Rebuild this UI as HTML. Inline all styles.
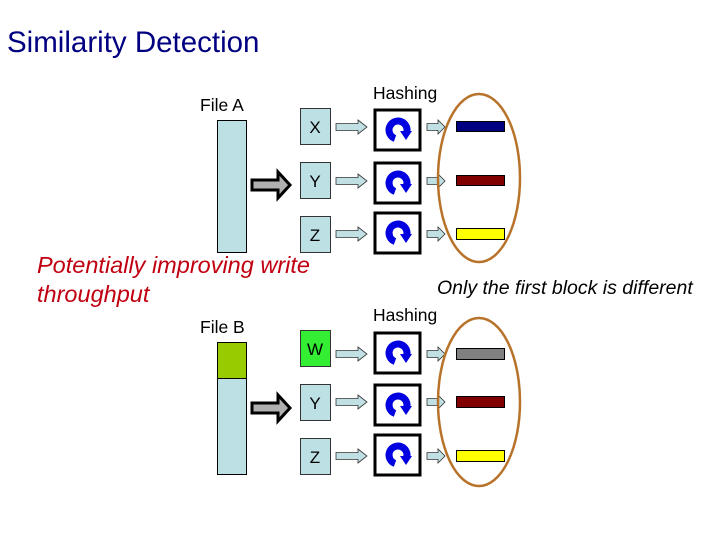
<!DOCTYPE html>
<html><head><meta charset="utf-8"><style>
html,body{margin:0;padding:0;background:#fff;}
svg{display:block;font-family:"Liberation Sans",sans-serif;}
</style></head><body>
<svg width="720" height="540" viewBox="0 0 720 540" xmlns="http://www.w3.org/2000/svg">
<defs>
<g id="icon">
<path d="M-3 8.5 A9 9 0 1 1 8.5 3" fill="none" stroke="#0000e0" stroke-width="7"/>
<polygon points="2,1 14,1 8,10" fill="#0000e0"/>
</g>
<g id="sa">
<polygon points="0,-3.5 22,-3.5 22,-7 31,0 22,7 22,3.5 0,3.5" fill="#c0e0e4" stroke="#333" stroke-width="0.8"/>
</g>
<g id="sb">
<polygon points="0,-3.5 11,-3.5 11,-7 18,0 11,7 11,3.5 0,3.5" fill="#c0e0e4" stroke="#333" stroke-width="0.8"/>
</g>
<g id="big">
<polygon points="0,-5 26,-5 26,-13 38,0 26,13 26,5 0,5" fill="#b0b0b0" stroke="#000" stroke-width="3"/>
</g>
</defs>
<text x="7" y="52" font-size="29.5" fill="#000080">Similarity Detection</text>

<!-- Top -->
<text x="200" y="111" font-size="17.5" fill="#000">File A</text>
<text x="373" y="99" font-size="17.5" fill="#000">Hashing</text>
<rect x="217.5" y="120.5" width="29" height="132" fill="#bde0e4" stroke="#000"/>
<use href="#big" x="252" y="185"/>
<rect x="300.5" y="108.5" width="30" height="36" fill="#bde0e4" stroke="#333"/>
<rect x="300.5" y="162.5" width="30" height="36" fill="#bde0e4" stroke="#333"/>
<rect x="300.5" y="216.5" width="30" height="36" fill="#bde0e4" stroke="#333"/>
<text x="315" y="133" font-size="17" text-anchor="middle">X</text>
<text x="315" y="187" font-size="17" text-anchor="middle">Y</text>
<text x="315" y="241" font-size="17" text-anchor="middle">Z</text>
<use href="#sa" x="336" y="127"/><use href="#sa" x="336" y="181"/><use href="#sa" x="336" y="234"/>
<rect x="375" y="110" width="45" height="40" fill="#fff" stroke="#000" stroke-width="3"/>
<rect x="375" y="163" width="45" height="40" fill="#fff" stroke="#000" stroke-width="3"/>
<rect x="375" y="213" width="45" height="40" fill="#fff" stroke="#000" stroke-width="3"/>
<use href="#icon" x="398" y="130"/><use href="#icon" x="398" y="183"/><use href="#icon" x="398" y="233"/>
<use href="#sb" x="427" y="127"/><use href="#sb" x="427" y="181"/><use href="#sb" x="427" y="234"/>
<rect x="456.5" y="121.5" width="48" height="10" fill="#000080" stroke="#000"/>
<rect x="456.5" y="175.5" width="48" height="10" fill="#800000" stroke="#000"/>
<rect x="456.5" y="228.5" width="48" height="11" fill="#ffff00" stroke="#000"/>
<ellipse cx="479" cy="178" rx="41" ry="84" fill="none" stroke="#b8732a" stroke-width="2.5"/>

<text x="37" y="273" font-size="23.5" font-style="italic" fill="#c00010">Potentially improving write</text>
<text x="37" y="302" font-size="23.5" font-style="italic" fill="#c00010">throughput</text>
<text x="437" y="294" font-size="19.5" font-style="italic" fill="#000">Only the first block is different</text>

<!-- Bottom -->
<text x="200" y="333" font-size="17.5" fill="#000">File B</text>
<text x="373" y="321" font-size="17.5" fill="#000">Hashing</text>
<rect x="217.5" y="342.5" width="29" height="132" fill="#bde0e4" stroke="#000"/>
<rect x="217.5" y="342.5" width="29" height="36" fill="#99cc00" stroke="#000"/>
<use href="#big" x="252" y="408"/>
<rect x="300.5" y="330.5" width="30" height="36" fill="#33ee33" stroke="#333"/>
<rect x="300.5" y="384.5" width="30" height="36" fill="#bde0e4" stroke="#333"/>
<rect x="300.5" y="438.5" width="30" height="36" fill="#bde0e4" stroke="#333"/>
<text x="315" y="355" font-size="17" text-anchor="middle">W</text>
<text x="315" y="409" font-size="17" text-anchor="middle">Y</text>
<text x="315" y="463" font-size="17" text-anchor="middle">Z</text>
<use href="#sa" x="336" y="354"/><use href="#sa" x="336" y="402"/><use href="#sa" x="336" y="456"/>
<rect x="375" y="333" width="45" height="40" fill="#fff" stroke="#000" stroke-width="3"/>
<rect x="375" y="385" width="45" height="40" fill="#fff" stroke="#000" stroke-width="3"/>
<rect x="375" y="435" width="45" height="40" fill="#fff" stroke="#000" stroke-width="3"/>
<use href="#icon" x="398" y="353"/><use href="#icon" x="398" y="405"/><use href="#icon" x="398" y="455"/>
<use href="#sb" x="427" y="354"/><use href="#sb" x="427" y="402"/><use href="#sb" x="427" y="456"/>
<rect x="456.5" y="348.5" width="48" height="11" fill="#808080" stroke="#000"/>
<rect x="456.5" y="396.5" width="48" height="11" fill="#800000" stroke="#000"/>
<rect x="456.5" y="450.5" width="48" height="11" fill="#ffff00" stroke="#000"/>
<ellipse cx="479" cy="402" rx="41" ry="84" fill="none" stroke="#b8732a" stroke-width="2.5"/>
</svg>
</body></html>
